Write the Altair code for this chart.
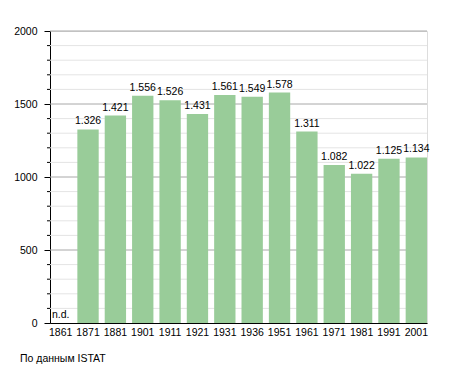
import altair as alt
import pandas as pd

years = ["1861", "1871", "1881", "1901", "1911", "1921", "1931", "1936", "1951", "1961", "1971", "1981", "1991", "2001"]
values = [0, 1326, 1421, 1556, 1526, 1431, 1561, 1549, 1578, 1311, 1082, 1022, 1125, 1134]
labels = ["n.d.", "1.326", "1.421", "1.556", "1.526", "1.431", "1.561", "1.549", "1.578", "1.311", "1.082", "1.022", "1.125", "1.134"]
minor_grid = [v for v in range(100, 2000, 100) if v % 500 != 0]
major_grid = [500, 1000, 1500, 2000]
y_ticks = [0, 500, 1000, 1500, 2000]
source_note = "По данным  ISTAT"

FONT = "Liberation Sans"

df = pd.DataFrame({"year": years, "value": values, "label": labels})
minor_df = pd.DataFrame({"value": minor_grid})
major_df = pd.DataFrame({"value": major_grid})

yscale = alt.Scale(domain=[0, 2000], nice=False)
xscale = alt.Scale(paddingInner=0.22, paddingOuter=0.0)
yaxis = alt.Axis(values=y_ticks, format="d", grid=False, tickSize=6, tickColor="#000", domainColor="#000",
                 labelFont=FONT, labelFontSize=10.5, labelColor="#000", labelPadding=7, title=None)
xaxis = alt.Axis(labelAngle=0, ticks=False, labelFont=FONT, labelFontSize=10.5,
                 labelColor="#000", domainColor="#000", labelPadding=4, title=None)

Y = alt.Y("value:Q", scale=yscale, axis=yaxis, title=None)

minor = alt.Chart(minor_df).mark_rule(color="#e4e4e4", strokeWidth=1).encode(y=Y)
minor_ticks = alt.Chart(minor_df).mark_rule(color="#000000", strokeWidth=1).encode(
    y=Y, x=alt.value(-3), x2=alt.value(0)
)
major = alt.Chart(major_df).mark_rule(color="#a8a8a8", strokeWidth=1).encode(y=Y)

bars = alt.Chart(df).mark_bar(color="#99cc99").encode(
    x=alt.X("year:N", sort=years, scale=xscale, axis=xaxis, title=None),
    y=Y,
)

text = alt.Chart(df).mark_text(font=FONT, fontSize=10.5, dy=-3, baseline="bottom", color="#000").encode(
    x=alt.X("year:N", sort=years, scale=xscale, axis=xaxis, title=None),
    y=Y,
    text="label:N",
)

note = alt.Chart(pd.DataFrame({"t": [source_note]})).mark_text(
    font=FONT, fontSize=10.5, align="left", baseline="middle", color="#000"
).encode(x=alt.value(-30), y=alt.value(328), text="t:N")

chart = alt.layer(major, minor, minor_ticks, bars, text, note).properties(
    width=377, height=292,
    autosize=alt.AutoSizeParams(type="none"),
    padding={"left": 42, "top": 23, "right": 20, "bottom": 50},
).configure_view(strokeWidth=0).configure(background="#ffffff")

chart.save("out.html", embed_options={"renderer": "svg", "actions": False})
